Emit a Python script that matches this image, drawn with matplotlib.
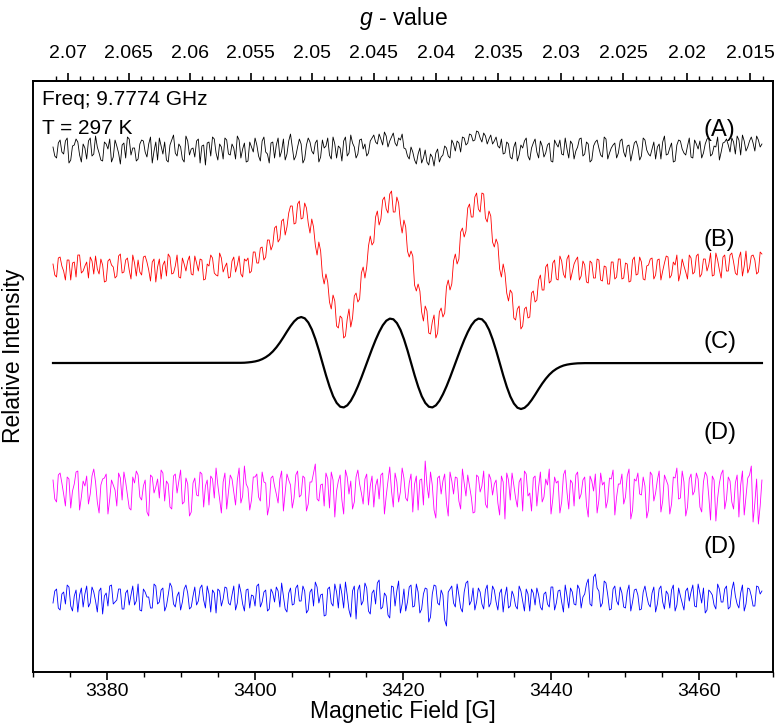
import numpy as np
import matplotlib
matplotlib.use("Agg")
import matplotlib.pyplot as plt
from matplotlib.ticker import MultipleLocator, FixedLocator

plt.rcParams['font.family'] = ['Liberation Sans', 'DejaVu Sans']
plt.rcParams['mathtext.fontset'] = 'custom'
plt.rcParams['mathtext.it'] = 'Liberation Sans:italic'
plt.rcParams['mathtext.rm'] = 'Liberation Sans'

# ---------------- data ----------------
# recorded sweep: 401 samples; each trace is given as even-index samples
# (201 values) and the samples between them (200 values)
field_start, field_end, n_points = 3372.7, 3468.5, 401

trace_A_even = [
    3, -8, 10, -4, 12, -10, 5, 8, -12, 2,
    9, -6, 14, -3, -11, 6, 11, -7, 4, -14,
    7, 13, -5, 2, -9, 10, -2, 6, -13, 8,
    12, -4, -10, 5, 15, -6, 3, -12, 9, 1,
    -7, 11, 4, -15, 8, 13, -3, 6, -9, 10,
    -5, 2, 14, -8, 7, -11, 3, 12, -6, 9,
    -2, -13, 8, 5, -7, 11, -4, 16, -10, 3,
    6, -9, 12, -1, 7, -12, 10, 4, -5, 13,
    -8, 2, 9, -6, 15, 3, -4, 11, 6, -3,
    12, 8, 16, 5, 14, 9, 17, 4, 10, 2,
    -6, 3, -10, -4, -13, 0, -15, -7, -3, -12,
    -5, 2, -8, 6, 9, -2, 12, 7, 15, 10,
    18, 8, 14, 11, 6, 13, 2, -4, 8, -7,
    3, -11, 5, 9, -6, 2, 11, -8, 4, -3,
    7, -12, 6, 10, -5, 1, 9, -9, 3, 12,
    -4, 6, -10, 8, 2, -7, 11, -3, 5, -8,
    9, -2, 4, -11, 7, 3, -6, 10, -4, 1,
    -9, 6, 8, -5, 2, -12, 5, 9, -3, 4,
    -7, 10, 1, -8, 6, 12, -4, 3, -10, 7,
    11, -2, 8, 14, -5, 9, 3, 13, -1, 10, 6,
]
trace_A_odd = [
    -6, 7, -2, 9, -13, 4, 11, -5, 6, -9,
    12, -4, 3, -10, 8, 1, -12, 10, -3, 5,
    -8, 11, 2, -11, 6, 9, -7, 13, -1, -10,
    4, 8, -12, 10, -3, 6, -9, 14, -5, 2,
    9, -13, 5, 7, -6, 11, -10, 3, 12, -4,
    6, -9, 10, 1, -12, 8, -2, 5, -11, 13,
    -4, 7, -8, 12, -1, -10, 9, 3, -6, 11,
    -13, 5, 8, -4, 10, -7, 2, 12, -9, 6,
    4, -11, 13, -3, 7, -8, 10, 1, -6, 9,
    15, 6, 11, 18, 3, 13, 7, 12, 16, 1,
    -9, -2, -14, 2, -8, -12, -4, -16, 1, -7,
    4, -6, 10, -1, 7, 13, 5, 16, 9, 19,
    12, 17, 6, 15, 9, 4, 11, -3, 6, -9,
    8, -5, 2, 12, -10, 7, -2, 9, -7, 5,
    -11, 10, 3, -4, 12, -8, 6, -1, 11, -6,
    8, -12, 4, 10, -5, 13, -9, 2, 7, -3,
    11, -7, 5, -2, 9, -10, 12, 0, -6, 8,
    3, -9, 14, -4, 7, -11, 10, 1, -5, 12,
    -8, 6, 9, -3, 11, -6, 4, 13, -2, 8,
    5, 12, -4, 10, 15, -1, 9, 7, 14, 3,
]

trace_B_even = [
    4, -9, 11, -3, 8, -12, 6, 13, -5, 2,
    -10, 7, 12, -6, 3, -13, 9, 1, -8, 14,
    -4, 10, -11, 5, 8, -7, 12, -2, 6, -14,
    9, 3, -8, 11, -5, 13, -10, 4, 7, -6,
    12, -3, 8, -11, 2, 10, -7, 15, -4, 5,
    -9, 11, 3, -6, 9,
    10, -3, 16, 5, 21,
    11, 28, 23, 42, 29,
    49, 41, 62, 44, 64,
    49, 65, 45, 49, 23,
    26, -7, -6, -34, -27,
    -58, -48, -70, -51, -59,
    -28, -34, -5, -10, 22,
    23, 51, 43, 68, 59,
    74, 56, 71, 46, 48,
    17, 17, -17, -16, -44,
    -38, -65, -54, -70, -44,
    -49, -19, -22, 7, 4,
    36, 31, 60, 51, 71,
    59, 75, 50, 57, 26,
    29, -1, 4, -25, -22,
    -50, -41, -61, -41, -50,
    -25, -34, -12, -22, 1,
    -15, 5, -11, 12, -6,
    9, -12, 4, 11, -8,
    3, -15, 5, -10, 8, -13, 1, -16, 6, -9,
    9, -10, 4, -13, 11, -6, 6, -12, 3, 10,
    -7, 9, -3, 12, -10, 6, 13, -5, 2, -11,
    10, -4, 14, -6, 9, 3, -8, 15, -2, 11,
    -3, 13, 6, -7, 16, 2, -5, 12, 8, -4, 14,
]
trace_B_odd = [
    -7, 10, 2, -12, 8, 5, -9, 13, -3, 6,
    11, -6, -1, 9, -14, 7, 3, -10, 12, -5,
    8, -2, 13, -8, -4, 11, 6, -13, 9, 1,
    -11, 7, 14, -6, 2, -9, 10, -3, 12, -7,
    5, 9, -12, 4, 13, -5, -8, 10, 1, -10,
    7, -4, 12, -9,
    7, -5, 16, 5, 20,
    8, 28, 18, 40, 26,
    47, 33, 55, 62, 45,
    67, 50, 60, 35, 41,
    13, 17, -16, -14, -41,
    -33, -60, -50, -68, -41,
    -50, -25, -31, 1, 1,
    32, 26, 57, 49, 71,
    55, 77, 56, 65, 35,
    41, 11, 12, -23, -23,
    -53, -43, -66, -47, -65,
    -40, -45, -12, -16, 14,
    9, 40, 37, 64, 51,
    75, 56, 74, 46, 52,
    21, 24, -9, -5, -33,
    -25, -52, -38, -58, -39,
    -49, -23, -32, -7, -22,
    4, -13, 8, -12, 7,
    -10, 13, -4, 8, -12,
    7,
    -14, 7, -10, 9, -12, 2, -16, 6, -11,
    9,
    -11, 5, -14, 8, -7, 11, -11, 2, 9,
    -11,
    8, -12, 5, 11, -7, 3, -13, 9, -4,
    13,
    -6, 12, -9, 9, -3, 15, -7, 8, -10,
    13,
    -3, 15, -5, 10, -8, 17, 0, 13, -6, 16,
]

trace_D1_even = [
    8, -14, 15, -6, 11, -20, 4, 17, -9, 2,
    -16, 12, 6, -25, 9, 14, -11, 3, -18, 10,
    16, -7, -22, 5, 13, -12, 8, -28, 11, 1,
    -10, 15, 7, -19, 12, -5, 18, -14, 4, -24,
    10, -8, 14, 2, -17, 9, 20, -11, 6, -21,
    13, -4, 8, -15, 22, 0, -12, 11, -9, 16,
    5, -18, 12, -6, 9, -23, 14, 3, -10, 17,
    -7, 10, -16, 6, 24, -13, 4, 15, -20, 8,
    -3, 13, -26, 11, 7, -14, 18, -5, 9, -17,
    12, 2, -11, 15, -8, 21, -19, 6, -4, 10,
    -13, 14, 4, -22, 9, 27, -10, 3, -30, 12,
    7, -15, 16, -6, 10, -21, 5, 13, -9, -24,
    11, 2, -16, 14, -7, 8, -27, 6, 15, -12,
    3, -19, 10, 17, -8, -23, 12, 1, -14, 9,
    19, -11, 5, -25, 13, -4, 8, -18, 16, -6,
    11, -29, 7, 14, -12, 3, -20, 10, 18, -9,
    4, -16, 12, -31, 9, 15, -7, 2, -22, 13,
    -5, 17, -13, 8, -26, 11, 20, -10, 6, -19,
    14, -3, 9, -24, 16, -8, 12, -33, 5, 18,
    -11, 7, -21, 13, 3, -27, 10, 22, -15, -36, 8,
]
trace_D1_odd = [
    -11, 13, 5, -18, 9, -3, 16, -22, 7, 12,
    -6, 19, -14, 3, 10, -26, 8, -2, 15, -12,
    6, -20, 11, 17, -9, 2, -24, 13, -5, 9,
    18, -13, 4, -21, 14, 7, -16, 10, -28, 5,
    -7, 16, -19, 8, 12, -10, 3, -25, 15, -4,
    9, -17, 20, -8, 4, -22, 11, 14, -13, 6,
    -27, 10, 2, -15, 17, -5, 8, -20, 13, -9,
    12, -23, 6, 15, -11, 3, -18, 9, 16, -29,
    7, -12, 18, -6, -21, 11, 4, -16, 14, 2,
    -19, 9, 13, -26, 7, -3, 15, -14, 20, -10,
    5, -24, 12, 8, -17, 3, 16, -22, 10, -6,
    14, -28, 7, 11, -13, 19, -8, 2, -25, 13,
    -4, 17, -20, 9, 4, -15, 12, -31, 8, 15,
    -10, 6, -23, 14, -5, 10, -18, 16, -9, 3,
    -26, 11, 7, -14, 18, -21, 5, 13, -11, 8,
    -17, 12, -3, -25, 15, 6, -12, 9, -27, 4,
    14, -9, 19, -22, 7, -6, 11, -30, 16, -13,
    8, -24, 13, 3, -16, 10, -11, 17, -28, 9,
    -7, 15, -19, 6, 12, -32, 8, -10, 14, -21,
    11, -14, 5, -29, 17, -8, 13, -34, 9, -18,
]

trace_D2_even = [
    -5, 9, -12, 6, 13, -8, 2, -14, 10, 4,
    -9, 11, -3, 7, -16, 5, 12, -6, -2, 9,
    -11, 8, 3, -7, 14, -13, 6, 1, -10, 12,
    -4, 10, -8, 15, -6, 2, -12, 9, 5, -9,
    11, -3, 13, -10, 4, 8, -15, 7, -1, 10,
    -7, 12, -5, 6, -13, 9, 3, -8, 14, -4,
    8, -11, 5, 11, -9, 2, -14, 10, -6, 13,
    -3, 7, -12, 9, 16, -5, 4, -17, 11, -8,
    6, 14, -10, 3, -19, 12, 8, -7, 15, -13,
    5, -6, 18, -9, 2, -20, 11, 7, -15, 9,
    -4, 13, -8, 6, -11, 10, -24, 4, 12, -7,
    3, -28, 9, -5, 14, -10, 6, 17, -3, -12,
    10, -6, 8, -9, 12, -4, 5, -14, 11, -8,
    2, -11, 7, -13, 4, 9, -7, 3, -12, 6,
    -9, 11, -5, 8, -14, 2, 10, -6, 13, -10,
    4, 19, -8, 24, 7, -5, 15, -12, 9, -3,
    11, -9, 6, -13, 8, 3, -11, 12, -6, 5,
    -14, 9, -4, 7, -10, 13, -7, 2, -12, 10,
    6, -8, 14, -5, -15, 8, 3, -11, 9, -4,
    12, -9, 16, -6, 5, -13, 10, 2, -8, 11, 7,
]
trace_D2_odd = [
    7, -10, 4, -6, 11, -13, 8, 3, -9, 12,
    -5, 6, -14, 10, 2, -8, 13, -4, 9, -11,
    5, -7, 12, -3, -12, 9, 1, -10, 14, -6,
    8, -13, 3, 11, -9, 6, -4, 13, -11, 2,
    -7, 10, -2, 12, -14, 5, 9, -8, 11, -5,
    3, -12, 14, -6, 8, -10, 2, 12, -9, 6,
    -13, 9, -4, 7, 15, -11, 5, -7, 10, -3,
    12, -15, 6, -8, 11, 3, -18, 9, -5, 14,
    -10, 4, 16, -12, 7, -21, 13, -3, 10, -16,
    8, 15, -11, 5, -17, 12, -8, 17, -6, -13,
    11, -9, 14, -15, 4, 9, -19, 13, -5, 8,
    -22, 6, 12, -9, 3, -14, 15, -7, 10, -4,
    6, -11, 13, -5, 8, -12, 9, 2, -10, 7,
    -8, 12, -3, 9, -13, 5, 10, -9, 4, -6,
    11, -12, 7, -4, 13, -10, 6, -7, 9, 1,
    14, -6, 21, 10, -9, 17, 3, -11, 12, -7,
    5, -10, 13, -4, 9, -12, 6, 2, -9, 11,
    -6, 12, -11, 4, 8, -13, 10, -5, 7, -3,
    13, -9, 5, 10, -12, 6, -7, 14, -4, 9,
    -11, 8, 2, -10, 13, -6, 9, -8, 12, 4,
]

# simulated spectrum (C): flat outside the window below
C_inner_start, C_step, C_n = 3398.1, 0.479, 98
trace_C_inner = [
    0.2, 0.3, 0.6, 1.0, 1.6, 2.5, 3.9, 5.8, 8.3, 11.6,
    15.7, 20.5, 25.9, 31.6, 37.0, 41.6, 44.8, 46.0, 44.7, 40.5,
    33.5, 23.9, 12.5, 0.0, -12.4, -23.7, -33.2, -39.9, -43.7, -44.4,
    -42.3, -37.7, -31.1, -23.2, -14.3, -4.8, 4.8, 14.3, 23.2, 31.1,
    37.7, 42.3, 44.4, 43.7, 39.9, 33.2, 23.7, 12.4, 0.0, -12.4,
    -23.7, -33.2, -39.9, -43.7, -44.4, -42.3, -37.7, -31.1, -23.2, -14.3,
    -4.8, 4.8, 14.3, 23.2, 31.1, 37.7, 42.3, 44.4, 43.7, 39.9,
    33.2, 23.7, 12.4, 0.0, -12.5, -23.9, -33.5, -40.5, -44.7, -46.0,
    -44.8, -41.6, -37.0, -31.6, -25.9, -20.5, -15.7, -11.6, -8.3, -5.8,
    -3.9, -2.5, -1.6, -1.0, -0.6, -0.3, -0.2, -0.1,
]

trace_labels = ["(A)", "(B)", "(C)", "(D)", "(D)"]
trace_colors = ["black", "#ff0000", "black", "#ff00ff", "#0000ff"]

g_ticks = [2.07, 2.065, 2.06, 2.055, 2.05, 2.045, 2.04, 2.035, 2.03, 2.025, 2.02, 2.015]
g_labels = ["2.07", "2.065", "2.06", "2.055", "2.05", "2.045", "2.04", "2.035",
            "2.03", "2.025", "2.02", "2.015"]
hnu_over_muB = 6985.8   # G, for 9.7774 GHz

# ---------------- layout / style ----------------
offsets = [522, 404, 309, 184, 74]
label_y = [542, 432, 330, 239, 125]
label_x = 3462.8


def merge(even, odd):
    out = np.empty(len(even) + len(odd))
    out[0::2] = even
    out[1::2] = odd
    return out


field = np.linspace(field_start, field_end, n_points)
C_field = np.concatenate([[field_start],
                          C_inner_start + C_step * np.arange(C_n),
                          [field_end]])
trace_C = np.array([0.0] + trace_C_inner + [0.0])

series = [
    (field, merge(trace_A_even, trace_A_odd)),
    (field, merge(trace_B_even, trace_B_odd)),
    (C_field, trace_C),
    (field, merge(trace_D1_even, trace_D1_odd)),
    (field, merge(trace_D2_even, trace_D2_odd)),
]

fig = plt.figure(figsize=(7.77, 7.24), dpi=100)
ax = fig.add_axes([0.0425, 0.0718, 0.9524, 0.8163])

for k, (xs, ys) in enumerate(series):
    lw = 1.6 if k == 2 else 0.6
    ax.plot(xs, ys + offsets[k], color=trace_colors[k], lw=lw)
    ax.text(label_x, label_y[k], trace_labels[k], fontsize=17, ha='center', va='center')

ax.set_xlim(3370, 3470)
ax.set_ylim(0, 591)
ax.set_yticks([])
ax.xaxis.set_major_locator(MultipleLocator(20))
ax.xaxis.set_minor_locator(MultipleLocator(5))
ax.tick_params(axis='x', which='major', length=6, width=1.2, labelsize=14, direction='out', pad=2)
ax.tick_params(axis='x', which='minor', length=3.5, width=1.0, direction='out')
for s in ax.spines.values():
    s.set_linewidth(1.4)

ax.set_xlabel("Magnetic Field [G]", fontsize=16.5, labelpad=0)
ax.set_ylabel("Relative Intensity", fontsize=16.5)
ax.yaxis.set_label_coords(-0.011, 0.535)

sec = ax.secondary_xaxis('top', functions=(lambda b: hnu_over_muB / b,
                                           lambda g: hnu_over_muB / g))
sec.set_xticks(g_ticks)
sec.set_xticklabels(g_labels)
sec.xaxis.set_minor_locator(FixedLocator(np.arange(2.013, 2.0715, 0.001)))
sec.tick_params(axis='x', which='major', length=6, width=1.2, labelsize=14, direction='out', pad=8)
sec.tick_params(axis='x', which='minor', length=3.5, width=1.0, direction='out')
sec.spines['top'].set_linewidth(1.4)
sec.set_xlabel(r"$\mathit{g}$ - value", fontsize=16.5, labelpad=14)

ax.text(0.012, 0.968, "Freq; 9.7774 GHz", transform=ax.transAxes, fontsize=15,
        ha='left', va='center')
ax.text(0.012, 0.920, "T = 297 K", transform=ax.transAxes, fontsize=15,
        ha='left', va='center')

fig.savefig("out.png", dpi=100)
